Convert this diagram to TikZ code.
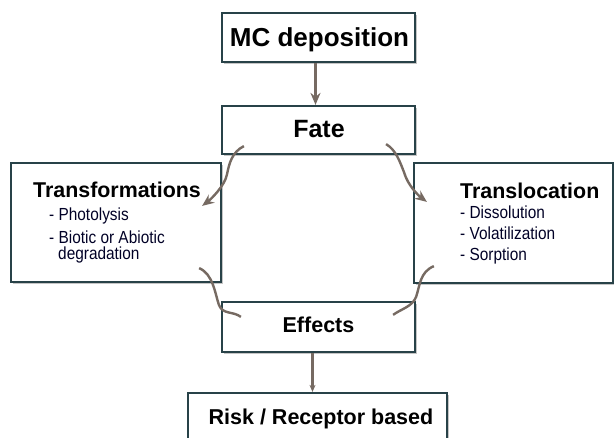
\documentclass[tikz,border=0pt]{standalone}
\usepackage{fontspec}
\setmainfont{Liberation Sans}
\newfontfamily\condfont[FakeStretch=0.88]{Liberation Sans}
\usetikzlibrary{arrows.meta,shadows}
\definecolor{boxline}{RGB}{40,66,72}
\definecolor{arrowc}{RGB}{118,106,98}
\tikzset{
  box/.style={draw=boxline, line width=2.2pt, fill=white, inner sep=0pt,
    drop shadow={shadow xshift=1.8pt, shadow yshift=-1.8pt, opacity=0.45}},
  ttl/.style={inner sep=0pt, anchor=base, font=\bfseries},
  lbl/.style={inner sep=0pt, anchor=base west},
  itm/.style={lbl, text=black!85!blue, font=\condfont\fontsize{17.5}{19}\selectfont},
  conn/.style={draw=arrowc, line width=2.4pt},
  arr/.style={conn, -{Stealth[length=12pt,width=10pt,inset=4pt]}},
}
\begin{document}
\begin{tikzpicture}[x=1pt,y=-1pt]
\clip (0,0) rectangle (614,438);
\fill[white] (0,0) rectangle (614,438);
% boxes
\node[box, minimum width=193pt, minimum height=49pt] (mc) at (318.5,37.5) {};
\node[box, minimum width=193pt, minimum height=48pt] (fate) at (318.5,130) {};
\node[box, minimum width=210pt, minimum height=119pt] (trans) at (116,222.5) {};
\node[box, minimum width=199pt, minimum height=120pt] (transl) at (513.5,223) {};
\node[box, minimum width=193pt, minimum height=50pt] (eff) at (318.5,327) {};
\node[box, minimum width=259pt, minimum height=57pt] (risk) at (317.5,421.5) {};
% titles
\node[ttl, font=\bfseries\fontsize{26}{28}\selectfont] (tmc) at (319.5,47) {MC deposition};
\node[ttl, font=\bfseries\fontsize{25}{27}\selectfont] (tfate) at (319,138) {Fate};
\node[ttl, font=\bfseries\fontsize{21.5}{24}\selectfont] (teff) at (318.5,333) {Effects};
\node[ttl, font=\bfseries\fontsize{21.5}{24}\selectfont] (trisk) at (321,425) {Risk / Receptor based};
\node[lbl, font=\bfseries\fontsize{21.4}{24}\selectfont] (ttrans) at (33,198) {Transformations};
\node[lbl, font=\bfseries\fontsize{21.4}{24}\selectfont] (ttransl) at (460,199) {Translocation};
% items
\node[itm] (i1) at (49,221) {- Photolysis};
\node[itm] (i2) at (49,244) {- Biotic or Abiotic};
\node[itm] (i3) at (58,260) {degradation};
\node[itm] (j1) at (460,219) {- Dissolution};
\node[itm] (j2) at (460,240) {- Volatilization};
\node[itm] (j3) at (460,261) {- Sorption};
% straight connectors
\draw[arr] ([xshift=-3pt]mc.south) -- ([xshift=-3pt]fate.north);
\draw[arr, -{Stealth[length=7pt,width=6pt,inset=2pt]}] ([xshift=-6pt]eff.south) -- ([xshift=-5pt]risk.north);
% curved connectors
\draw[arr] ([shift={(23,-9)}]fate.south west)
  .. controls +(-12,6) and +(2,-10) .. ([shift={(5,12)}]trans.north east)
  .. controls +(-2,12) and +(8,-6) .. ([shift={(-20,44)}]trans.north east);
\draw[arr] ([shift={(-30,-11)}]fate.south east)
  .. controls +(10,6) and +(-4,-10) .. ([shift={(-9,10)}]transl.north west)
  .. controls +(4,14) and +(-8,-6) .. ([shift={(14,40)}]transl.north west);
\draw[conn] ([shift={(-23,-15)}]trans.south east)
  .. controls +(14,6) and +(-4,-12) .. ([shift={(-2,4)}]eff.north west)
  .. controls +(4,10) and +(-8,-6) .. ([shift={(20,16)}]eff.north west);
\draw[conn] ([shift={(21,-18)}]transl.south west)
  .. controls +(-14,6) and +(4,-12) .. ([shift={(0,-4)}]eff.north east)
  .. controls +(-4,10) and +(8,-6) .. ([shift={(-23,14)}]eff.north east);
\end{tikzpicture}
\end{document}
